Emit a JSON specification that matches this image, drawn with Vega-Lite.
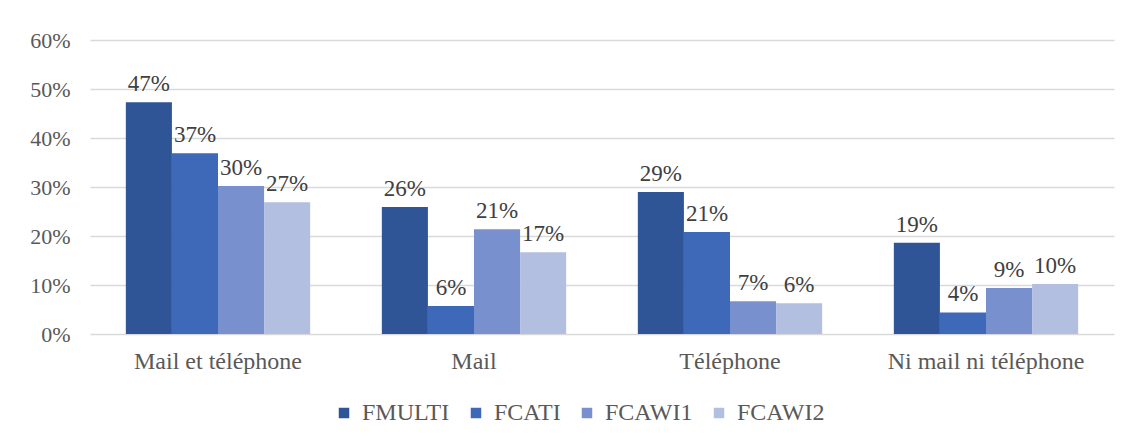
{
  "$schema": "https://vega.github.io/schema/vega-lite/v6.json",
  "width": 1024,
  "height": 294,
  "autosize": {"type": "none"},
  "padding": {"left": 90, "top": 40, "right": 18, "bottom": 109},
  "background": "white",
  "config": {
    "view": {"stroke": null},
    "font": "Liberation Serif",
    "text": {"font": "Liberation Serif"}
  },
  "data": {
    "values": [
      {"cat": "Mail et téléphone", "serie": "FMULTI", "v": 0.473},
      {"cat": "Mail et téléphone", "serie": "FCATI", "v": 0.369},
      {"cat": "Mail et téléphone", "serie": "FCAWI1", "v": 0.302},
      {"cat": "Mail et téléphone", "serie": "FCAWI2", "v": 0.269},
      {"cat": "Mail", "serie": "FMULTI", "v": 0.259},
      {"cat": "Mail", "serie": "FCATI", "v": 0.057},
      {"cat": "Mail", "serie": "FCAWI1", "v": 0.214},
      {"cat": "Mail", "serie": "FCAWI2", "v": 0.167},
      {"cat": "Téléphone", "serie": "FMULTI", "v": 0.290},
      {"cat": "Téléphone", "serie": "FCATI", "v": 0.208},
      {"cat": "Téléphone", "serie": "FCAWI1", "v": 0.067},
      {"cat": "Téléphone", "serie": "FCAWI2", "v": 0.063},
      {"cat": "Ni mail ni téléphone", "serie": "FMULTI", "v": 0.186},
      {"cat": "Ni mail ni téléphone", "serie": "FCATI", "v": 0.044},
      {"cat": "Ni mail ni téléphone", "serie": "FCAWI1", "v": 0.094},
      {"cat": "Ni mail ni téléphone", "serie": "FCAWI2", "v": 0.102}
    ]
  },
  "encoding": {
    "x": {
      "field": "cat", "type": "nominal",
      "sort": ["Mail et téléphone", "Mail", "Téléphone", "Ni mail ni téléphone"],
      "scale": {"paddingInner": 0.28, "paddingOuter": 0.14},
      "axis": {"title": null, "labelAngle": 0, "domain": false, "ticks": false, "labelFontSize": 24, "labelColor": "#595959", "labelPadding": 15, "labelLimit": 400, "labelFont": "Liberation Serif"}
    },
    "xOffset": {
      "field": "serie", "type": "nominal",
      "sort": ["FMULTI", "FCATI", "FCAWI1", "FCAWI2"],
      "scale": {"paddingInner": 0, "paddingOuter": 0}
    },
    "y": {
      "field": "v", "type": "quantitative",
      "scale": {"domain": [0, 0.6], "nice": false},
      "axis": {"title": null, "format": ".0%", "values": [0, 0.1, 0.2, 0.3, 0.4, 0.5, 0.6], "domain": false, "ticks": false, "labelFontSize": 22, "labelColor": "#595959", "labelPadding": 20, "labelFont": "Liberation Serif", "gridColor": "#D9D9D9", "gridWidth": 1.5}
    }
  },
  "layer": [
    {
      "mark": {"type": "bar"},
      "encoding": {
        "color": {
          "field": "serie", "type": "nominal",
          "sort": ["FMULTI", "FCATI", "FCAWI1", "FCAWI2"],
          "scale": {"domain": ["FMULTI", "FCATI", "FCAWI1", "FCAWI2"], "range": ["#2F5597", "#3E68B8", "#7891CE", "#B2BFE0"]},
          "legend": {
            "title": null, "orient": "none", "direction": "horizontal",
            "legendX": 242, "legendY": 361,
            "symbolType": "square", "symbolSize": 110, "symbolStrokeWidth": 0,
            "labelFontSize": 24, "labelColor": "#595959", "labelFont": "Liberation Serif",
            "columnPadding": 14, "labelOffset": 6
          }
        }
      }
    },
    {
      "mark": {"type": "text", "baseline": "bottom", "dy": -6, "fontSize": 23, "color": "#404040", "font": "Liberation Serif"},
      "encoding": {
        "text": {"field": "v", "type": "quantitative", "format": ".0%"}
      }
    }
  ]
}
